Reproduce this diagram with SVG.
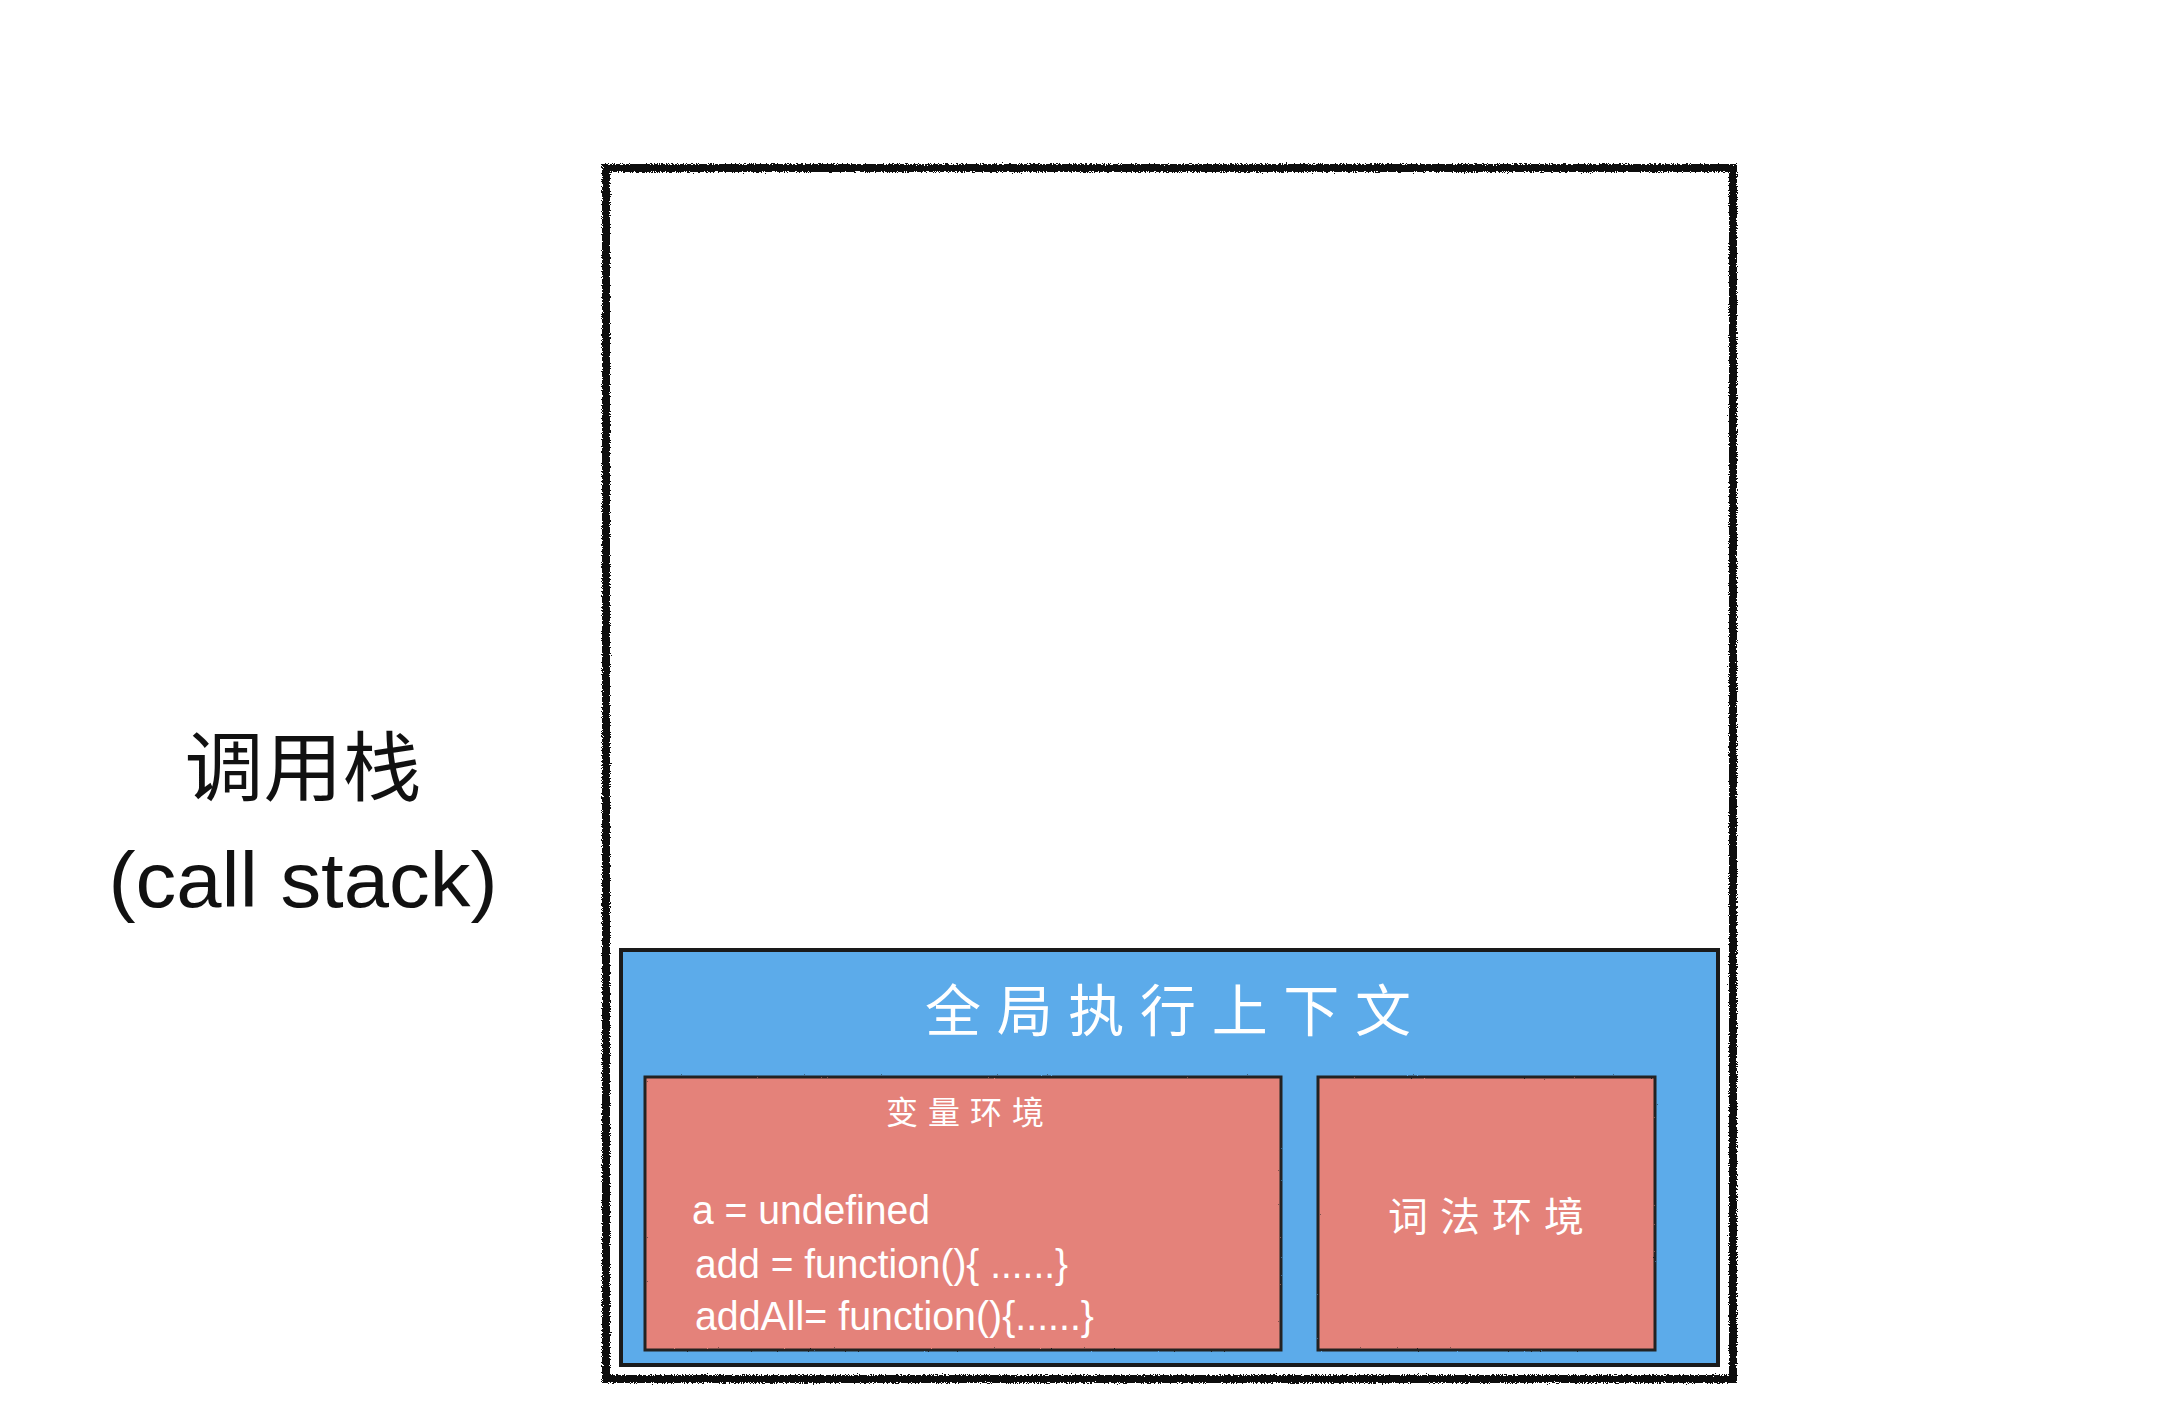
<svg xmlns="http://www.w3.org/2000/svg" width="2162" height="1410" viewBox="0 0 2162 1410">
  <defs>
    <filter id="rough" x="-2%" y="-2%" width="104%" height="104%">
      <feTurbulence type="fractalNoise" baseFrequency="0.9" numOctaves="2" seed="3" result="noise"/>
      <feDisplacementMap in="SourceGraphic" in2="noise" scale="5" xChannelSelector="R" yChannelSelector="G"/>
    </filter>
    <filter id="roughSoft" x="-2%" y="-2%" width="104%" height="104%">
      <feTurbulence type="fractalNoise" baseFrequency="0.7" numOctaves="1" seed="7" result="noise"/>
      <feDisplacementMap in="SourceGraphic" in2="noise" scale="2" xChannelSelector="R" yChannelSelector="G"/>
    </filter>
  </defs>
  <style>
    .label { font-family: "Liberation Sans", "Noto Sans CJK SC", sans-serif; }
    .cjk { font-family: "Noto Sans CJK SC", "Liberation Sans", sans-serif; }
    .white { fill: #ffffff; }
    .black { fill: #111111; }
    .stackframe { fill: none; stroke: #111111; stroke-width: 8; }
    .ctx { fill: #5CABEA; stroke: #1a1a1a; stroke-width: 4; }
    .env { fill: #E4827A; stroke: #222222; stroke-width: 3; }
  </style>
  <rect x="0" y="0" width="2162" height="1410" fill="#ffffff"/>

  <g id="call-stack-label">
    <text class="cjk black" x="303" y="795" font-size="76" text-anchor="middle" textLength="237" lengthAdjust="spacingAndGlyphs">调用栈</text>
    <text class="label black" x="303" y="907" font-size="78" text-anchor="middle" textLength="389" lengthAdjust="spacingAndGlyphs">(call stack)</text>
  </g>

  <g id="call-stack">
    <rect class="stackframe" x="606" y="168" width="1127" height="1211" filter="url(#rough)"/>
  </g>

  <g id="global-context">
    <rect class="ctx" x="621" y="950" width="1097" height="415"/>
    <text class="cjk white" x="1168" y="1031" font-size="56" text-anchor="middle" textLength="486" lengthAdjust="spacing">全局执行上下文</text>
  </g>

  <g id="variable-env">
    <rect class="env" x="645" y="1077" width="636" height="273" filter="url(#roughSoft)"/>
    <text class="cjk white" x="965" y="1124" font-size="32" text-anchor="middle" textLength="158" lengthAdjust="spacing">变量环境</text>
    <text class="label white" x="692" y="1224" font-size="40" textLength="238" lengthAdjust="spacingAndGlyphs">a = undefined</text>
    <text class="label white" x="695" y="1278" font-size="40" textLength="373" lengthAdjust="spacingAndGlyphs">add = function(){ ......}</text>
    <text class="label white" x="695" y="1330" font-size="40" textLength="399" lengthAdjust="spacingAndGlyphs">addAll= function(){......}</text>
  </g>

  <g id="lexical-env">
    <rect class="env" x="1318" y="1077" width="337" height="273" filter="url(#roughSoft)"/>
    <text class="cjk white" x="1486" y="1231" font-size="40" text-anchor="middle" textLength="196" lengthAdjust="spacing">词法环境</text>
  </g>

  <g id="connectors"/>
</svg>
